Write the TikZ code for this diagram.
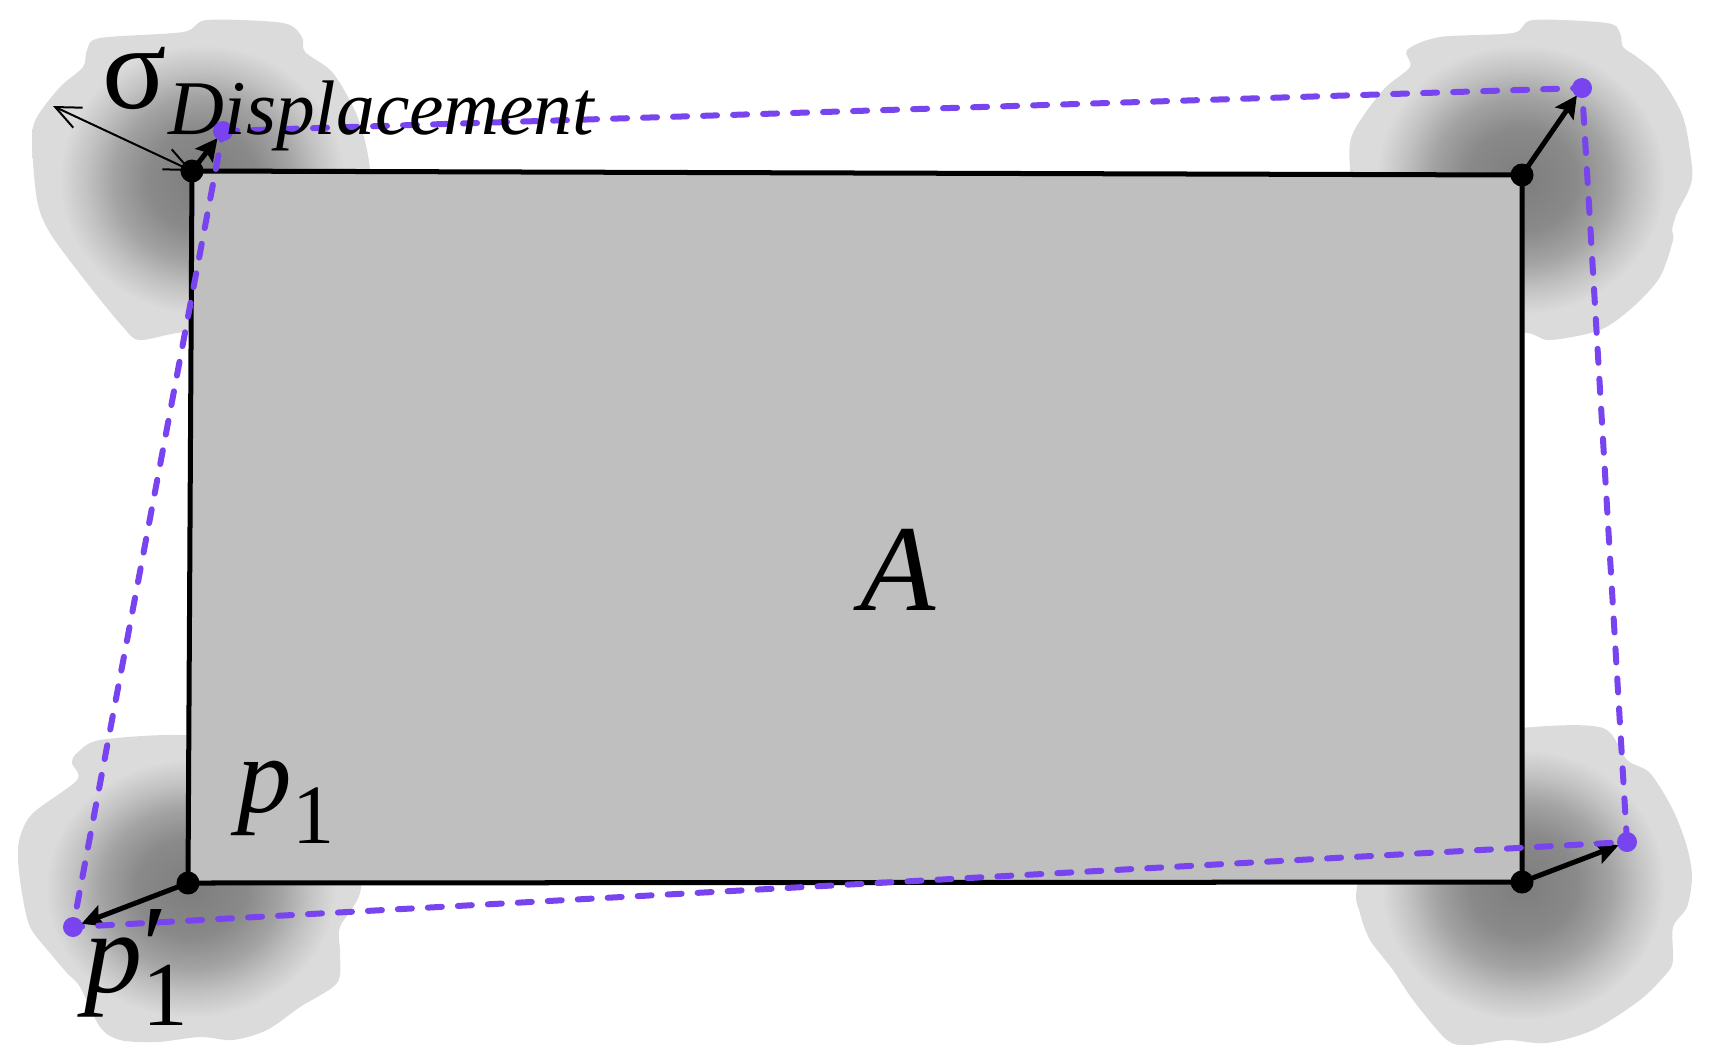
\documentclass[tikz,border=0pt]{standalone}
\usepackage{fontspec}
\setmainfont{Liberation Serif}
\usetikzlibrary{arrows.meta,calc,positioning}

\definecolor{dispviolet}{RGB}{119,68,240}
\definecolor{blobdark}{gray}{0.49}
\definecolor{blobmid}{gray}{0.54}
\definecolor{blobhalf}{gray}{0.64}
\definecolor{blobpale}{gray}{0.76}
\definecolor{bloblight}{gray}{0.86}
\definecolor{platefill}{gray}{0.75}
\pgfdeclareradialshading{blobshade}{\pgfpoint{0bp}{0bp}}{color(0bp)=(blobdark); color(8bp)=(blobmid); color(13bp)=(blobhalf); color(17bp)=(blobpale); color(21bp)=(bloblight); color(25bp)=(bloblight); color(50bp)=(bloblight)}

\begin{document}
\begin{tikzpicture}[x=0.01cm,y=-0.01cm,
    blob/.style={shading=blobshade},
    plate/.style={fill=platefill, draw=black, line width=0.05cm},
    shifted/.style={draw=dispviolet, line width=0.06cm, dash pattern=on 0.14cm off 0.16cm, line cap=round},
    disparrow/.style={-{Stealth[length=0.22cm,width=0.22cm,inset=0.04cm]}, line width=0.05cm, shorten >=0.09cm},
    sigmaarrow/.style={{Straight Barb[length=0.25cm,width=0.22cm]}-{Straight Barb[length=0.25cm,width=0.22cm]}, line width=0.02cm},
    lbl/.style={inner sep=0pt, anchor=base west}]

  \useasboundingbox (0,0) rectangle (1709,1060);

  % Plate corners and displaced corners
  \coordinate (c1) at (192,171);
  \coordinate (c2) at (1522,175);
  \coordinate (c3) at (1522,882);
  \coordinate (c4) at (188,883);
  \coordinate (d1) at (223,131);
  \coordinate (d2) at (1582,88);
  \coordinate (d3) at (1627,842);
  \coordinate (d4) at (73,927);
  \coordinate (sigend) at (53,106);

  % Uncertainty blobs
  \shade[blob] plot[smooth cycle, tension=0.5] coordinates {(207,20) (283,23) (302,37) (305,52) (333,73) (358,118) (370,170) (368,240) (340,300) (270,335) (187,332) (140,340) (123,327) (87,283) (50,233) (37,200) (32,140) (37,117) (60,87) (83,67) (87,50) (100,38) (183,32)};
  \shade[blob] plot[smooth cycle, tension=0.5] coordinates {(1407,50) (1440,37) (1513,33) (1533,20) (1607,23) (1620,33) (1623,47) (1637,57) (1660,77) (1683,117) (1692,167) (1690,187) (1677,213) (1672,230) (1673,240) (1660,277) (1633,307) (1600,330) (1550,340) (1527,333) (1470,330) (1400,300) (1360,240) (1350,167) (1353,133) (1383,90) (1410,67)};
  \shade[blob] plot[smooth cycle, tension=0.5] coordinates {(100,740) (180,735) (260,745) (330,780) (360,840) (360,893) (340,927) (340,953) (337,983) (300,1007) (267,1030) (233,1040) (200,1037) (157,1042) (120,1040) (100,1027) (80,987) (67,973) (50,953) (30,927) (22,893) (18,860) (20,837) (33,813) (77,780) (72,763) (77,753)};
  \shade[blob] plot[smooth cycle, tension=0.5] coordinates {(1450,740) (1533,727) (1603,728) (1627,760) (1650,773) (1673,810) (1687,847) (1692,877) (1687,907) (1673,927) (1673,960) (1667,973) (1640,1000) (1593,1030) (1547,1043) (1507,1040) (1470,1045) (1447,1040) (1413,1000) (1393,970) (1370,940) (1360,913) (1357,887) (1380,800)};

  % Plate
  \draw[plate] (c1) -- (c2) -- (c3) -- (c4) -- cycle;

  % Displacement vectors
  \draw[sigmaarrow] (c1) -- (sigend);
  \foreach \i in {1,...,4} {
    \draw[disparrow] (c\i) -- (d\i);
    \fill (c\i) circle (0.115cm);
  }

  % Displaced plate
  \draw[shifted] (d1) -- (d2) -- (d3) -- (d4) -- cycle;
  \foreach \i in {1,...,4}
    \fill[dispviolet] (d\i) circle (0.1cm);

  % Labels
  \node[lbl, font=\fontsize{34}{40}\selectfont] (sig) at (102,108) {σ};
  \node[lbl, font=\itshape\fontsize{22}{27}\selectfont] (disp) at (168,134) {Displacement};
  \node[inner sep=0pt, font=\itshape\fontsize{35}{42}\selectfont] (area) at (898,570) {A};
  \node[lbl, font=\fontsize{31}{38}\selectfont] (p1) at (237,812) {\textit{p}\raisebox{-0.31cm}{\fontsize{24}{28}\selectfont 1}};
  \node[lbl, font=\fontsize{33}{40}\selectfont] (p1d) at (84,992) {\textit{p}\rlap{\raisebox{0.07cm}{′}}\raisebox{-0.33cm}{\fontsize{26}{30}\selectfont 1}};
\end{tikzpicture}
\end{document}
